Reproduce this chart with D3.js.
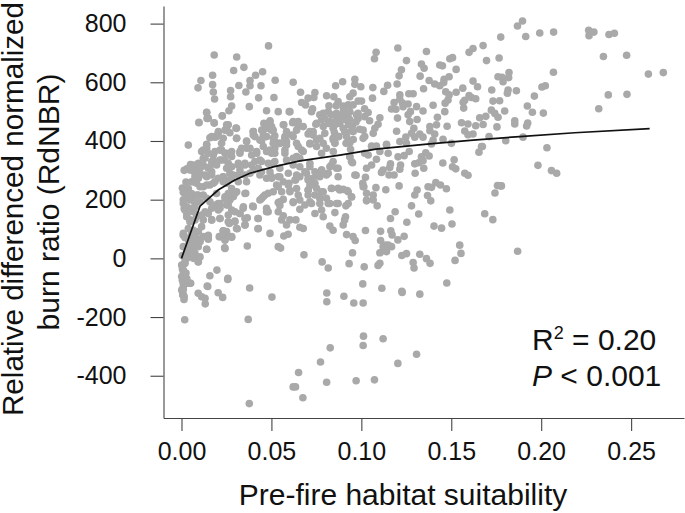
<!DOCTYPE html>
<html>
<head>
<meta charset="utf-8">
<script src="https://cdn.jsdelivr.net/npm/d3@7"></script>
<style>
  html, body { margin: 0; padding: 0; background: #fff; }
  svg { display: block; }
  text { font-family: "Liberation Sans", Arial, sans-serif; fill: #111; }
</style>
</head>
<body>
<div id="chart"></div>
<script>
var xTicks = [0, 0.05, 0.10, 0.15, 0.20, 0.25];
var yTicks = [-400, -200, 0, 200, 400, 600, 800];

// fitted curve
var fitX = [0, 0.0103, 0.0204, 0.0297, 0.038, 0.051, 0.0658, 0.0881, 0.1081, 0.138, 0.1621, 0.188, 0.2186, 0.2603];
var fitY = [0, 178, 233, 267, 290, 312, 332, 352, 372, 390, 403, 415, 428, 442];

// [suitability, RdNBR]
var points = [
  [.0484,724],[.0182,693],[.0307,686],[.0347,651],[.029,640],[.0451,636],[.0173,624],[.0412,624],[.0108,606],[.0521,607],
  [.0621,600],[.0381,606],[.0173,592],[.0319,589],[.0442,588],[.0092,581],[.0381,588],[.0273,572],[.0177,567],[.0358,567],
  [.0662,566],[.0742,565],[.0807,554],[.0857,588],[.0273,551],[.0429,547],[.0514,548],[.0184,543],[.0704,546],[.0736,548],
  [.0668,531],[.069,523],[.0729,510],[.0847,551],[.0871,534],[.0377,517],[.0279,519],[.0264,503],[.0473,503],[.0599,500],
  [.014,498],[.0227,486],[.0142,477],[.0097,462],[.0182,461],[.0492,469],[.0458,460],[.0649,466],[.0618,462],[.0569,455],
  [.0816,500],[.0788,494],[.0834,489],[.0862,494],[.0779,472],[.0825,466],[.0862,472],[.0747,457],[.0788,449],[.0843,443],
  [.026,455],[.0303,444],[.0251,443],[.0269,428],[.0399,432],[.0473,443],[.051,437],[.0446,437],[.0519,418],[.0584,432],
  [.064,437],[.0621,415],[.0575,415],[.0704,424],[.0732,432],[.0204,426],[.0186,413],[.0158,411],[.0307,409],[.0399,420],
  [.0473,415],[.0843,409],[.0853,394],[.0038,386],[.014,389],[.0223,392],[.0362,400],[.0446,401],[.0519,398],[.0584,398],
  [.0714,390],[.0751,403],[.0649,381],[.0547,392],
  [.1868,792],[.1775,754],[.1677,725],[.1621,715],[.1599,702],[.1203,717],[.1082,702],[.1362,705],[.1073,680],[.1251,674],
  [.1507,684],[.1492,680],[.1766,683],[.1696,674],[.1334,662],[.1436,659],[.1451,656],[.1349,648],[.1527,644],[.1223,643],
  [.1821,633],[.121,622],[.1327,621],[.176,619],[.1782,617],[.1819,616],[.1488,619],[.146,610],[.0964,610],[.0896,602],
  [.1377,606],[.1621,604],[.1788,602],[.1199,594],[.1146,590],[.1458,599],[.1408,594],[.0964,593],[.0997,585],[.1064,582],
  [.1346,578],[.1436,588],[.1646,585],[.1564,580],[.1725,574],[.1862,571],[.1816,574],[.1125,569],[.1469,568],[.1527,566],
  [.1812,563],[.0954,563],[.1264,561],[.1288,561],[.1214,557],[.1488,557],[.1599,555],[.0936,551],[.1062,546],[.1612,548],
  [.1636,544],[.1214,542],[.1482,540],[.1575,539],[.1566,532],[.1732,536],[.1769,537],[.0982,536],[.1001,536],[.1182,531],
  [.1466,529],[.1229,529],[.126,526],[.1399,522],[.0927,523],[.0954,523],[.1307,517],[.0899,519],[.1168,509],[.1192,508],
  [.1232,517],[.1569,512],[.1018,510],[.1343,502],[.1797,502],[.1464,500],[.1723,505],[.1742,494],[.1273,500],[.1038,497],
  [.0936,500],[.0899,494],[.0973,489],[.126,489],[.176,481],[.1692,484],[.1658,479],[.1103,479],[.1423,481],[.1201,478],
  [.131,473],[.0927,481],[.089,477],[.0982,477],[.1046,469],[.1269,466],[.1853,469],[.1853,458],[.1557,462],[.1593,458],
  [.1677,456],[.1636,452],[.1477,450],[.1754,448],[.1093,457],[.1075,443],[.1381,449],[.1418,455],[.1292,443],[.1381,435],
  [.1575,434],[.1196,433],[.0946,434],[.0899,443],[.1066,426],[.1279,426],[.1325,424],[.1408,424],[.1621,424],[.1593,421],
  [.1019,415],[.0918,415],[.101,409],[.1247,413],[.1297,413],[.1343,413],[.1399,403],[.1454,406],[.171,415],[.0936,394],
  [.1803,401],[.1501,392],[.1214,398],[.114,389],[.1057,383],[.1084,383],[.1668,381],[.1251,392],[.139,390],
  [.1896,809],[.1914,756],[.1992,768],[.2069,771],[.2264,777],[.2293,771],[.2266,759],[.2377,763],[.2407,767],[.2346,688],
  [.2475,692],[.2068,634],[.2596,628],[.2679,633],[.2023,588],[.2004,584],[.1962,553],[.2373,557],[.2477,559],[.232,510],
  [.1923,519],[.1951,498],[.2012,495],[.1925,461],[.1919,451],[.1899,413],[.2032,377],[.1982,317],[.2057,299],[.2086,290],[.1779,247],
  [.0936,398],[.1057,381],[.114,386],[.1038,352],[.1103,364],[.1149,358],[.1204,346],[.1238,350],[.1266,364],[.0936,346],
  [.0951,326],[.1057,318],[.1084,338],[.1029,307],[.1162,322],[.1158,310],[.1218,318],[.1214,304],[.1121,301],[.1112,293],
  [.1154,284],[.1182,284],[.0971,283],[.1023,276],[.1008,256],[.1014,244],[.1297,322],[.1319,326],[.1334,346],[.1358,360],
  [.1377,349],[.1343,333],[.1347,307],[.1299,290],[.1453,325],[.1516,336],[.1507,312],[.1525,305],[.1575,290],[.1593,283],
  [.1654,362],[.1673,381],[.121,247],[.1081,241],[.1136,234],[.0899,235],[.0921,231],[.1029,222],[.0946,209],[.1066,216],
  [.1029,196],[.1066,199],[.1088,179],[.0914,179],[.1371,244],[.139,242],[.1414,258],[.144,250],[.1473,237],[.131,233],
  [.1297,216],[.1368,214],[.1386,196],[.1279,179],[.1757,248],[.1775,247],[.1743,223],[.1492,165],[.1188,159],[.1319,151],
  [.1686,152],[.1162,136],[.1731,132],[.0912,142],[.0907,131],[.1253,123],[.1504,117],[.0899,114],[.1404,110],[.1446,103],
  [.1023,95],[.1107,92],[.1164,94],[.1171,80],[.1238,75],[.1203,63],[.0918,81],[.0954,74],[.0966,61],[.1107,61],
  [.1134,45],[.1121,40],[.1168,40],[.1149,45],[.1121,26],[.1103,19],[.114,23],[.0951,19],[.1547,45],[.1554,17],
  [.1521,-7],[.1869,24],[.1251,16],[.1225,10],[.1325,14],[.1362,-1],[.1382,-17],[.1288,-14],[.1293,-33],[.0932,-18],
  [.1016,-29],[.1103,-17],[.1093,-24],[.1008,-87],[.1114,-102],[.1225,-112],[.1475,-84],
  [.0379,-101],[.0146,-96],[.0503,-132],[.0808,-118],[.0808,-148],[.0903,-129],[.0958,-152],[.101,-152],[.1227,-116],[.1325,-122],
  [.0018,-209],[.0371,-208],[.1012,-265],[.1121,-274],[.101,-297],[.0827,-305],[.1307,-327],[.0773,-353],[.1203,-358],[.0651,-389],
  [.0971,-417],[.1073,-414],[.0807,-422],[.0621,-438],[.0634,-438],[.0675,-475],[.0377,-495],
  [.0093,-119],[.0112,-131],[.0131,-136],[.0132,-155],[.0204,-117],[.0229,-133],[.0257,-72],
  [.0014,-140],[.0007,-125],[.0007,-115],[.001,-97],[.0029,-85],[.0051,-85],[.0014,-88],
  [.0366,42],[.0538,40],[.0551,35],[.0681,12],[.0782,-12],[.0816,-33],[.024,36],[.014,31],[.0197,-40],[.0158,-59],[.0258,-68],[.0143,-94],
  [.0492,85],[.0569,76],[.0593,82],[.0425,101],[.031,101],[.0353,114],[.0425,136],[.0297,127],[.0366,138],[.021,74],
  [.0232,94],[.0251,83],[.0279,72],[.0242,65],[.0149,74],[.0149,65],
  [.0843,96],[.0825,110],[.0677,102],[.0658,106],[.0636,131],[.0603,131],[.0584,114],[.0557,131],[.0566,145],[.0538,159],
  [.0547,180],[.0566,201],[.0538,190],[.0603,231],[.0597,256],[.0634,267],[.0649,216],[.0621,190],[.0704,216],[.0788,227],
  [.0769,210],[.0686,182],[.0723,187],[.0658,167],[.0742,153],[.0788,142],[.0779,165],[.0825,187],[.0862,187],[.0853,156],
  [.0806,205],[.0834,239],[.0871,239],[.0482,222],[.0454,210],[.0436,199],[.0396,178],[.0473,171],[.0482,159],[.0343,171],
  [.0325,153],[.0279,165],[.026,148],[.0266,119],[.0214,136],[.0168,131],[.0357,222],[.0307,227],[.0288,210],[.0269,199],
  [.0242,210],[.0204,187],[.0214,171],[.0168,171],[.0131,159],[.0121,131],[.0112,108],[.0084,142],[.0029,165],[.0047,131],
  [.0066,159],[.0038,102],[.001,79],[.0066,74],[.0103,62],[.0093,40],[.0066,28],[.0038,40],[.0029,11],[.0066,0],
  [.0093,-12],[.0001,-23],[.0019,-17],[.001,-46],[.0019,-63],[.0038,-85],
  [.0112,364],[.014,375],[.0177,352],[.0131,341],[.0168,330],[.0149,307],[.0121,318],[.0056,301],[.0084,307],[.0103,290],
  [.0075,278],[.014,278],[.0168,295],[.0186,261],[.0158,250],[.0121,244],[.0084,256],[.0056,261],[.0038,233],[.0019,227],
  [.0047,216],[.0066,205],[.0093,216],[.0121,216],[.0038,205],[.014,205],[.0103,193],[.0158,193],
  [.0214,369],[.0242,358],[.0223,335],[.026,324],[.0279,347],[.0325,364],[.0362,375],[.0418,364],[.0473,364],[.0519,375],
  [.0575,369],[.064,347],[.0677,364],[.0751,381],[.0806,375],[.0853,392],[.0232,278],[.0269,290],[.0316,318],[.0353,324],
  [.039,318],[.0427,307],[.0436,284],[.0473,273],[.0501,278],[.0538,278],[.0538,244],[.0594,290],[.0658,278],[.0695,290],
  [.0704,267],[.0732,273],[.0714,250],[.0742,256],[.0704,233],[.0751,239],[.0779,301],[.0806,284],[.0825,312],[.0843,330],
  [.0769,278],[.0788,290],[.0862,307],[.0871,278],[.0325,301],[.0279,273],[.0362,261],[.0251,256],[.0232,278],[.0584,335],
  [.0658,312],[.0714,324],[.0621,318],[.051,324],[.0436,335],[.0381,290],[.0547,307],
  [.088,460],[.092,470],[.09,510],[.095,450],[.082,520],[.086,520],[.093,455],[.091,430],[.097,465],[.099,440],
  [.085,430],[.0875,415],[.0955,405],[.0915,392],[.094,372],
  [.0015,300],[.003,305],[.005,320],[.0025,260],[.0005,240],[.001,225],[.002,235],[.004,215],[.001,200],[.0015,170],
  [.003,150],[.001,85],[.002,70],[.004,60],[.001,40],[.003,20],[.0005,10],[.002,-5],[.0005,-35],[.0025,-50],
  [.003,-70],[.0005,-75],[.001,-105],[.0015,-130],
  // second pass over the dense left part
  [.0097,464],[.014,497],[.0149,477],[.0182,462],[.0227,485],[.0251,455],[.0205,432],[.0242,437],[.0168,415],[.0195,415],
  [.0232,409],[.0306,443],[.0306,409],[.0399,432],[.0408,415],[.0455,420],[.0464,455],[.0492,466],[.0501,437],[.0362,398],
  [.0334,375],[.0325,358],[.0381,375],[.0436,403],[.0455,381],[.051,409],[.0492,369],[.0418,358],[.039,352],[.014,386],
  [.0121,369],[.0149,358],[.0186,364],[.0223,369],[.0251,358],[.0279,364],[.0242,335],[.0214,335],[.0177,335],[.0121,341],
  [.0094,324],[.0066,318],[.0047,301],[.0075,290],[.0112,312],[.0158,312],[.0195,318],[.0094,273],[.0066,261],[.0131,284],
  [.0168,284],[.0205,273],[.0251,307],[.0279,312],[.0316,324],[.0353,318],[.0408,330],[.0445,330],[.0482,324],[.0519,330],
  [.0316,284],[.0288,284],[.026,267],[.0232,261],[.0177,256],[.014,250],[.0103,244],[.0038,238],[.0019,221],[.0056,221],
  [.0084,216],[.0047,199],[.001,187],[.0029,176],[.0075,187],[.0316,261],[.0353,284],[.0399,301],[.0445,295],[.0492,295],
  [.0279,238],[.026,221],[.0242,204],[.0214,187],[.0297,221],[.0353,221],[.0445,204],[.0464,216],[.0251,182],[.0177,182],[.0195,221],
  [.0501,449],[.0566,455],[.0621,466],[.0649,449],[.0612,420],[.0575,409],[.0547,392],[.0584,386],[.051,392],[.0501,358],
  [.0538,500],[.0603,500],[.0723,500],[.0769,489],[.0797,477],[.0816,460],[.0853,455],[.089,472],[.0936,472],[.0982,494],
  [.1019,483],[.0751,460],[.0714,432],[.0732,420],[.0769,409],[.0788,392],[.0797,426],[.0844,403],[.0871,415],[.0908,432],
  [.0955,432],[.101,437],[.0677,449],[.064,392],[.0668,369],[.0714,392],[.0519,358],[.0575,358],[.0621,341],[.0658,341],
  [.0779,358],[.0844,364],[.0936,347],[.1019,358],[.0945,330],
  [.0714,312],[.0686,295],[.0742,295],[.0779,301],[.0834,318],[.0871,307],[.0816,290],[.076,284],[.0705,273],[.0723,250],
  [.0705,233],[.0547,278],[.0501,273],[.0566,261],[.0529,250],[.051,227],[.0557,227],[.0631,267],[.064,238],[.0594,250],
  [.0603,227],[.0742,216],[.0779,227],[.0834,238],[.088,233],[.0927,227],[.0547,193],[.0621,193],[.0658,199],[.0714,193],
  [.0769,187],[.0816,187],[.0871,187],[.0927,187],[.0945,210],[.0964,284],[.101,244],[.1029,199],[.0769,204],[.064,284],
  [.0019,165],[.0047,170],[.0075,176],[.0029,142],[.0047,125],[.0075,131],[.0112,148],[.0149,153],[.0168,131],[.0205,165],
  [.0214,136],[.026,182],[.0297,159],[.026,125],[.0297,125],[.0353,136],[.0344,176],[.0325,153],[.0399,176],[.0427,136],
  [.0473,159],[.0427,102],[.0353,114],[.0306,102],[.0251,91],[.0232,94],[.0214,74],[.0279,74],[.0242,62],[.0149,79],
  [.0121,74],[.0094,91],[.0084,68],[.0066,57],[.0103,57],[.014,31],[.0056,40],[.0075,17],[.0103,5],[.0094,-11],
  [.0047,11],[.0029,0],[.0019,-17],[.001,-40],[.0001,-62],[.0019,-57],[.0047,-85],[.001,-85],[.0001,-108],[.001,-125],
  [.0242,34],[.0066,96],[.0038,68],[.0056,85]
];

var width = 685;
var height = 513;

var svg = d3.select("#chart")
  .append("svg")
  .attr("width", width)
  .attr("height", height);

var x = d3.scaleLinear().domain([-0.01, 0.2794]).range([163.5, 684]);
var y = d3.scaleLinear().domain([-544, 860]).range([418, 6]);

// points go first so the curve sits on top
svg.append("g")
  .selectAll("circle")
  .data(points)
  .enter()
  .append("circle")
  .attr("cx", d => x(d[0]))
  .attr("cy", d => y(d[1]))
  .attr("r", 3.8)
  .attr("fill", "#a9a9a9");

var line = d3.line()
  .x(d => x(d[0]))
  .y(d => y(d[1]));

svg.append("path")
  .datum(fitX.map((v, i) => [v, fitY[i]]))
  .attr("d", line)
  .attr("fill", "none")
  .attr("stroke", "#111")
  .attr("stroke-width", 1.7);

// axes
var bottomAxis = d3.axisBottom(x)
  .tickValues(xTicks)
  .tickFormat(d3.format(".2f"))
  .tickSizeInner(13)
  .tickSizeOuter(0)
  .tickPadding(11);

// plain hyphen on the negative labels, as in the original
var leftAxis = d3.axisLeft(y)
  .tickValues(yTicks)
  .tickFormat(d => String(d))
  .tickSizeInner(13)
  .tickSizeOuter(0)
  .tickPadding(24);

var gx = svg.append("g")
  .attr("transform", "translate(0,418)")
  .call(bottomAxis);

var gy = svg.append("g")
  .attr("transform", "translate(163.5,0)")
  .call(leftAxis);

[gx, gy].forEach(function(g) {
  g.selectAll("path, line").attr("stroke", "#444").attr("stroke-width", 1.1);
  g.selectAll("text").attr("font-size", 25).attr("fill", "#111");
});

// axis titles
svg.append("text")
  .attr("x", 403)
  .attr("y", 505)
  .attr("text-anchor", "middle")
  .attr("font-size", 30)
  .text("Pre-fire habitat suitability");

svg.append("text")
  .attr("transform", "translate(23,209) rotate(-90)")
  .attr("text-anchor", "middle")
  .attr("font-size", 29.6)
  .text("Relative differenced normalized");

svg.append("text")
  .attr("transform", "translate(59,202) rotate(-90)")
  .attr("text-anchor", "middle")
  .attr("font-size", 30)
  .text("burn ratio (RdNBR)");

// fit statistics
var r2 = svg.append("text")
  .attr("x", 532)
  .attr("y", 350)
  .attr("font-size", 30);
r2.append("tspan").text("R");
r2.append("tspan").attr("font-size", 18).attr("dy", -11).text("2");
r2.append("tspan").attr("dy", 11).text(" = 0.20");

var pText = svg.append("text")
  .attr("x", 532)
  .attr("y", 386)
  .attr("font-size", 30);
pText.append("tspan").attr("font-style", "italic").text("P");
pText.append("tspan").text(" < 0.001");
</script>
</body>
</html>
